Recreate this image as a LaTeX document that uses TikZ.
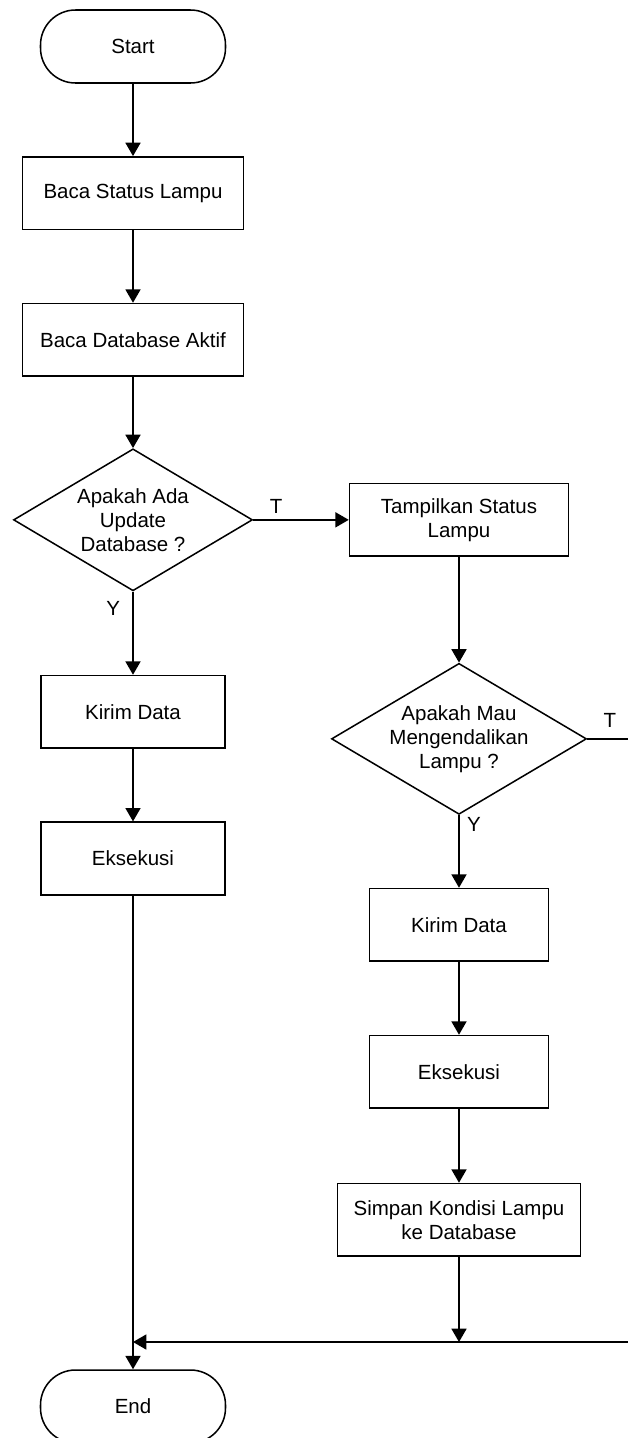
\documentclass[tikz,border=0pt]{standalone}
\usepackage{fontspec}
\setmainfont{Liberation Sans}
\usetikzlibrary{shapes.geometric,arrows.meta}

\tikzset{
	base/.style={draw, line width=1.3pt, align=center, font=\fontsize{17.5}{20.5}\selectfont},
	startstop/.style={base, rounded corners=1.05cm, minimum width=5.55cm, minimum height=2.19cm},
	process/.style={base, rectangle, minimum width=#1, minimum height=2.18cm},
	process/.default=6.63cm,
	decision/.style={base, diamond, aspect=1.68, inner sep=0pt},
	lbl/.style={font=\fontsize{17.5}{20.5}\selectfont},
	arr/.style={line width=1.3pt, -{Triangle[width=4.5mm,length=4mm]}}
}

\begin{document}
\begin{tikzpicture}[node distance=4.4cm]
			\useasboundingbox (0,0) rectangle (18.81,-43.14);
			\node(Start)		[startstop] at (3.99,-1.395)							{Start};
			\node(BacaStatus)	[process, below of=Start]								{Baca Status Lampu};
			\node(BacaDatabase)	[process, below of=BacaStatus]							{Baca Database Aktif};
			\node(AdaUpdate)	[decision, minimum width=7.17cm, minimum height=4.26cm, node distance=5.4cm, below of=BacaDatabase]	{Apakah Ada\\Update\\Database ?};
			\node(KirimData)	[process=5.52cm, node distance=5.76cm, below of=AdaUpdate]	{Kirim Data};
			\node(Eksekusi)		[process=5.52cm, below of=KirimData]					{Eksekusi};
			\node(End)			[startstop, node distance=16.44cm, below of=Eksekusi]	{End};
			\node(Tampilkan)	[process=6.57cm, node distance=9.78cm, right of=AdaUpdate]	{Tampilkan Status\\Lampu};
			\node(MauKendali)	[decision, minimum width=7.65cm, minimum height=4.53cm, node distance=6.57cm, below of=Tampilkan]	{Apakah Mau\\Mengendalikan\\Lampu ?};
			\node(KirimDataB)	[process=5.37cm, node distance=5.58cm, below of=MauKendali]	{Kirim Data};
			\node(EksekusiB)	[process=5.37cm, node distance=4.41cm, below of=KirimDataB]	{Eksekusi};
			\node(Simpan)		[process=7.29cm, node distance=4.44cm, below of=EksekusiB]	{Simpan Kondisi Lampu\\ke Database};
			\coordinate(MergeR)	at (19.0,-40.26);
			\coordinate(MergeL)	at (Eksekusi.south |- MergeR);
			\coordinate(MergeM)	at (Simpan.south |- MergeR);
			\draw[arr](Start)		-- (BacaStatus);
			\draw[arr](BacaStatus)	-- (BacaDatabase);
			\draw[arr](BacaDatabase)	-- (AdaUpdate);
			\draw[arr](AdaUpdate.east)	-- node[lbl, above, pos=0.24, yshift=0.05cm] {T} (Tampilkan.west);
			\draw[arr](AdaUpdate.south)	-- node[lbl, left, pos=0.2, xshift=-0.25cm] {Y} (KirimData);
			\draw[arr](KirimData)	-- (Eksekusi);
			\draw[arr](Eksekusi)	-- (End);
			\draw[arr](Tampilkan)	-- (MauKendali);
			\draw[arr](MauKendali.south)	-- node[lbl, right, pos=0.13, xshift=0.1cm] {Y} (KirimDataB);
			\draw[arr](MauKendali.east)	-- node[lbl, above, pos=0.49, yshift=0.2cm] {T} (MauKendali.east -| MergeR) -- (MergeR) -- (MergeL);
			\draw[arr](KirimDataB)	-- (EksekusiB);
			\draw[arr](EksekusiB)	-- (Simpan);
			\draw[arr](Simpan)		-- (MergeM);
		\end{tikzpicture}
\end{document}
